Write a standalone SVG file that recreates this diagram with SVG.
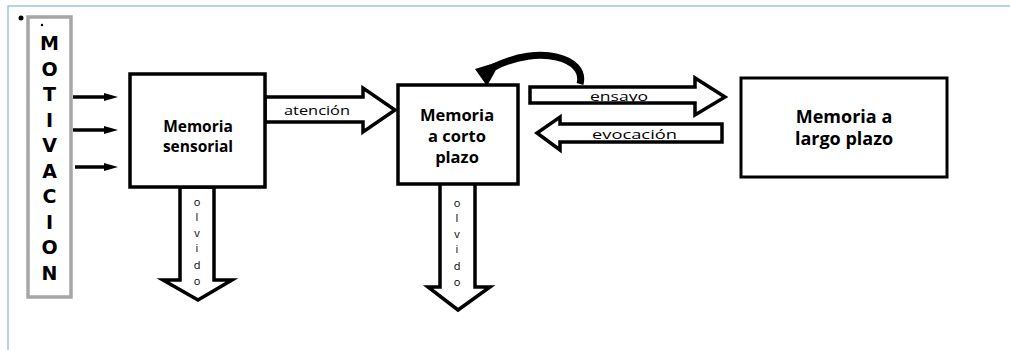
<svg xmlns="http://www.w3.org/2000/svg" width="1010" height="350" viewBox="0 0 1010 350">
<style>
.box{fill:#fff;stroke:#000;stroke-width:3.5}
.fat{fill:#fff;stroke:#000;stroke-width:3.5;stroke-linejoin:miter}
.t{font-family:"Open Sans","DejaVu Sans",sans-serif;font-weight:bold;font-size:15.5px;fill:#000;text-anchor:middle}
.m{font-family:"DejaVu Sans","Liberation Sans",sans-serif;font-weight:bold;font-size:19px;fill:#000;text-anchor:middle}
.s{font-family:"Open Sans","Liberation Sans",sans-serif;font-size:13px;fill:#000}
.v{font-family:"Open Sans","Liberation Sans",sans-serif;font-size:11px;fill:#000;text-anchor:middle}
.in{stroke:#000;stroke-width:3.5}
</style>
<rect width="1010" height="350" fill="#fff"/>
<path d="M8 350 V6 H1010" fill="none" stroke="#9dc3e6" stroke-width="1.5"/>
<circle cx="21" cy="18" r="2.5" fill="#000"/>
<g id="motivacion">
<rect x="28" y="17" width="43" height="280" fill="#fff" stroke="#a6a6a6" stroke-width="3.5"/>
<circle cx="42" cy="25" r="1.2" fill="#000"/>
<text class="m" x="49.5" y="50">M</text>
<text class="m" x="49.5" y="76">O</text>
<text class="m" x="49.5" y="101">T</text>
<text class="m" x="49.5" y="127">I</text>
<text class="m" x="49.5" y="152">V</text>
<text class="m" x="49.5" y="178">A</text>
<text class="m" x="49.5" y="203">C</text>
<text class="m" x="49.5" y="229">I</text>
<text class="m" x="49.5" y="254">O</text>
<text class="m" x="49.5" y="280">N</text>
</g>
<g id="connectors">
<line class="in" x1="73" y1="97" x2="106" y2="97"/>
<polygon points="104,93 118,97 104,101"/>
<line class="in" x1="73" y1="130" x2="106" y2="130"/>
<polygon points="104,126 118,130 104,134"/>
<line class="in" x1="75" y1="167" x2="106" y2="167"/>
<polygon points="104,163 118,167 104,171"/>
<polygon class="fat" points="265,97 363,97 363,88 395,110 363,132 363,122 265,122"/>
<text class="s" x="284" y="115" textLength="66" lengthAdjust="spacingAndGlyphs">atención</text>
<polygon class="fat" points="180,187 180,280 163,280 198,300 232,280 214,280 214,187"/>
<text class="v" x="197" y="206">o</text>
<text class="v" x="197" y="221">l</text>
<text class="v" x="197" y="237">v</text>
<text class="v" x="197" y="252">i</text>
<text class="v" x="197" y="269">d</text>
<text class="v" x="197" y="285">o</text>
<polygon class="fat" points="440,183 440,287 428,287 458,310 490,287 475,287 475,183"/>
<text class="v" x="457" y="207">o</text>
<text class="v" x="457" y="222">l</text>
<text class="v" x="457" y="238">v</text>
<text class="v" x="457" y="253">i</text>
<text class="v" x="457" y="270">d</text>
<text class="v" x="457" y="286">o</text>
<path d="M580 84 C587 58 540 44 494 67" fill="none" stroke="#000" stroke-width="7"/>
<polygon points="475,69 501,61 487,86"/>
<polygon class="fat" points="530,87 695,87 695,78 725,97 695,115 695,103 530,103"/>
<text class="s" x="590" y="101" textLength="58" lengthAdjust="spacingAndGlyphs">ensayo</text>
<polygon class="fat" points="722,124 560,124 560,117 537,133 560,150 560,142 722,142"/>
<text class="s" x="592" y="139" textLength="85" lengthAdjust="spacingAndGlyphs">evocación</text>
</g>
<g id="sensorial">
<rect class="box" x="130" y="74" width="135" height="113"/>
<text class="t" x="198" y="132">Memoria</text>
<text class="t" x="198" y="152">sensorial</text>
</g>
<g id="corto">
<rect class="box" x="398" y="85" width="120" height="99"/>
<text class="t" x="457" y="121" style="font-size:16.5px">Memoria</text>
<text class="t" x="457" y="142" style="font-size:16.5px">a corto</text>
<text class="t" x="457" y="163" style="font-size:16.5px">plazo</text>
</g>
<g id="largo">
<rect x="741" y="78" width="206" height="99" fill="#fff" stroke="#000" stroke-width="3"/>
<text class="t" x="844" y="123" style="font-size:18px">Memoria a</text>
<text class="t" x="844" y="145" style="font-size:18px">largo plazo</text>
</g>
</svg>
